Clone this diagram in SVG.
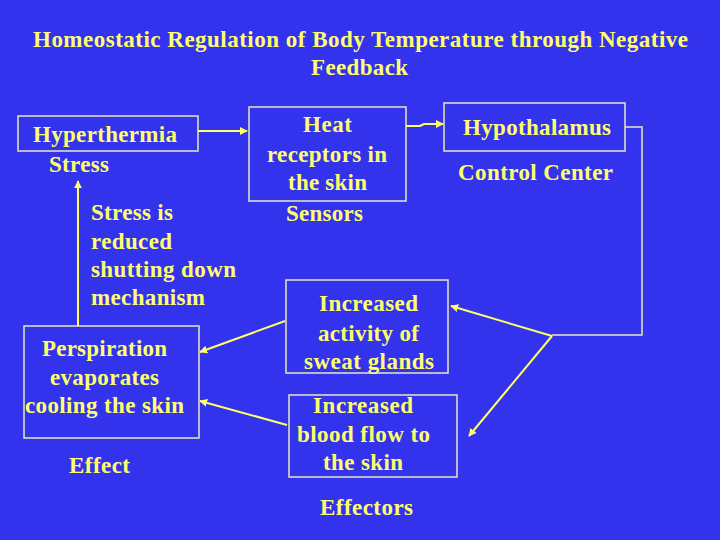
<svg xmlns="http://www.w3.org/2000/svg" width="720" height="540" viewBox="0 0 720 540">
<style>
.t{font-family:"Liberation Serif","Times New Roman",serif;font-weight:bold;font-size:23px;fill:#FFFF6E}
.ti{font-size:23px}
.box{fill:none;stroke:#E8E8C0;stroke-width:1.5}
.ln{fill:none;stroke:#FFFF66;stroke-width:2}
.wl{fill:none;stroke:#E8E8C0;stroke-width:1.5}
</style>
<defs>
<marker id="ah" viewBox="0 0 10 10" refX="9" refY="5" markerWidth="4" markerHeight="4" orient="auto" markerUnits="strokeWidth">
<path d="M0,0 L10,5 L0,10 z" fill="#FFFF66"/>
</marker>
</defs>
<rect x="0" y="0" width="720" height="540" fill="#3333EE"/>
<g id="title">
<text class="t ti" x="33" y="47" textLength="655" lengthAdjust="spacing">Homeostatic Regulation of Body Temperature through Negative</text>
<text class="t ti" x="311" y="75" textLength="97" lengthAdjust="spacing">Feedback</text>
</g>
<g id="hyperthermia">
<rect class="box" x="18" y="116" width="180" height="35"/>
<text class="t" x="33" y="142" textLength="144" lengthAdjust="spacing">Hyperthermia</text>
<text class="t" x="49" y="172" textLength="60" lengthAdjust="spacing">Stress</text>
</g>
<g id="stress-reduced">
<text class="t" x="91" y="220" textLength="82" lengthAdjust="spacing">Stress is</text>
<text class="t" x="91" y="249" textLength="81" lengthAdjust="spacing">reduced</text>
<text class="t" x="91" y="277" textLength="145" lengthAdjust="spacing">shutting down</text>
<text class="t" x="91" y="305" textLength="114" lengthAdjust="spacing">mechanism</text>
</g>
<g id="heat-receptors">
<rect class="box" x="249" y="107" width="157" height="94"/>
<text class="t" x="303" y="132" textLength="49" lengthAdjust="spacing">Heat</text>
<text class="t" x="267" y="162" textLength="120" lengthAdjust="spacing">receptors in</text>
<text class="t" x="288" y="190" textLength="79" lengthAdjust="spacing">the skin</text>
<text class="t" x="286" y="221" textLength="77" lengthAdjust="spacing">Sensors</text>
</g>
<g id="hypothalamus">
<rect class="box" x="444" y="103" width="181" height="48"/>
<text class="t" x="463" y="135" textLength="148" lengthAdjust="spacing">Hypothalamus</text>
<text class="t" x="458" y="180" textLength="155" lengthAdjust="spacing">Control Center</text>
</g>
<g id="sweat-glands">
<rect class="box" x="286" y="280" width="162" height="93"/>
<text class="t" x="319" y="311" textLength="99" lengthAdjust="spacing">Increased</text>
<text class="t" x="318" y="341" textLength="101" lengthAdjust="spacing">activity of</text>
<text class="t" x="304" y="369" textLength="130" lengthAdjust="spacing">sweat glands</text>
</g>
<g id="blood-flow">
<rect class="box" x="289" y="395" width="168" height="82"/>
<text class="t" x="313" y="413" textLength="100" lengthAdjust="spacing">Increased</text>
<text class="t" x="297" y="442" textLength="133" lengthAdjust="spacing">blood flow to</text>
<text class="t" x="323" y="470" textLength="80" lengthAdjust="spacing">the skin</text>
<text class="t" x="320" y="515" textLength="93" lengthAdjust="spacing">Effectors</text>
</g>
<g id="perspiration">
<rect class="box" x="24" y="326" width="175" height="112"/>
<text class="t" x="42" y="356" textLength="125" lengthAdjust="spacing">Perspiration</text>
<text class="t" x="50" y="385" textLength="109" lengthAdjust="spacing">evaporates</text>
<text class="t" x="25" y="413" textLength="159" lengthAdjust="spacing">cooling the skin</text>
<text class="t" x="69" y="473" textLength="61" lengthAdjust="spacing">Effect</text>
</g>
<g id="connectors">
<line class="ln" x1="198" y1="131" x2="247" y2="131" marker-end="url(#ah)"/>
<polyline class="ln" points="406,126 420,126 424,124 443,124" marker-end="url(#ah)"/>
<line class="ln" x1="78" y1="326" x2="78" y2="181" marker-end="url(#ah)"/>
<polyline class="wl" points="625,127 642,127 642,335 552,335"/>
<line class="ln" x1="552" y1="336" x2="451" y2="306" marker-end="url(#ah)"/>
<line class="ln" x1="552" y1="336" x2="469" y2="436" marker-end="url(#ah)"/>
<line class="ln" x1="285" y1="321" x2="200" y2="352" marker-end="url(#ah)"/>
<line class="ln" x1="287" y1="425" x2="200" y2="401" marker-end="url(#ah)"/>
</g>
</svg>
